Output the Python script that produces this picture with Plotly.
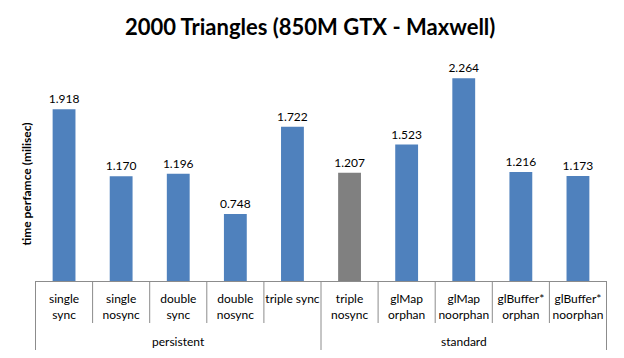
import plotly.graph_objects as go

categories = ["single<br>sync", "single<br>nosync", "double<br>sync", "double<br>nosync",
              "triple sync", "triple<br>nosync", "glMap<br>orphan", "glMap<br>noorphan",
              "glBuffer*<br>orphan", "glBuffer*<br>noorphan"]
values = [1.918, 1.170, 1.196, 0.748, 1.722, 1.207, 1.523, 2.264, 1.216, 1.173]
labels = ["1.918", "1.170", "1.196", "0.748", "1.722", "1.207", "1.523", "2.264", "1.216", "1.173"]
groups = ["persistent", "standard"]
group_sizes = [5, 5]
highlight_index = 5

BLUE = "#4F81BD"
GRAY = "#808080"
LINE = "#8C8C8C"
FONT = "Lato, 'Open Sans', sans-serif"

colors = [GRAY if i == highlight_index else BLUE for i in range(len(categories))]

fig = go.Figure()
fig.add_trace(go.Bar(
    x=categories, y=values, width=0.4,
    marker=dict(color=colors, line=dict(width=0)),
    text=labels, textposition="outside", cliponaxis=False, constraintext="none",
    textfont=dict(size=12, color="#000000", family=FONT),
    hoverinfo="skip",
))

shapes = []
n = len(categories)
group_edges = [-0.5]
acc = -0.5
for s in group_sizes:
    acc += s
    group_edges.append(acc)
for i in range(n + 1):
    b = i - 0.5
    outer = any(abs(b - g) < 1e-9 for g in group_edges)
    shapes.append(dict(type="line", xref="x", yref="paper", x0=b, x1=b,
                       y0=0, y1=-0.308 if outer else -0.1875,
                       line=dict(color=LINE, width=1)))

annotations = []
start = 0
for g, s in zip(groups, group_sizes):
    annotations.append(dict(text=g, xref="x", yref="paper", x=start + (s - 1) / 2,
                            y=-0.268, showarrow=False, xanchor="center", yanchor="middle",
                            font=dict(size=12, color="#000000", family=FONT)))
    start += s

annotations.append(dict(text="<b>time perfamce (milisec)</b>", xref="paper", yref="paper",
                        x=-0.014, y=0.435, textangle=-90, showarrow=False,
                        xanchor="center", yanchor="middle",
                        font=dict(size=12, color="#000000", family=FONT)))

fig.update_layout(
    width=624, height=358,
    margin=dict(l=35, r=17, t=57, b=77, autoexpand=False),
    paper_bgcolor="white", plot_bgcolor="white",
    title=dict(text="<b>2000 Triangles (850M GTX - Maxwell)</b>", xref="container", yref="container",
               x=0.497, y=0.924, xanchor="center", yanchor="middle",
               font=dict(size=22, color="#000000", family=FONT)),
    xaxis=dict(showline=True, linecolor=LINE, linewidth=1, ticks="", showgrid=False,
               tickfont=dict(size=12, color="#000000", family=FONT),
               ticklabelstandoff=7, fixedrange=True, automargin=False),
    yaxis=dict(range=[0, 2.5], visible=False, showgrid=False, fixedrange=True, automargin=False),
    shapes=shapes, annotations=annotations, showlegend=False,
    bargap=0.6,
)

fig.write_html("out.html", config={"displayModeBar": False},
               post_script="document.body.style.margin='0';document.body.style.padding='0';")
